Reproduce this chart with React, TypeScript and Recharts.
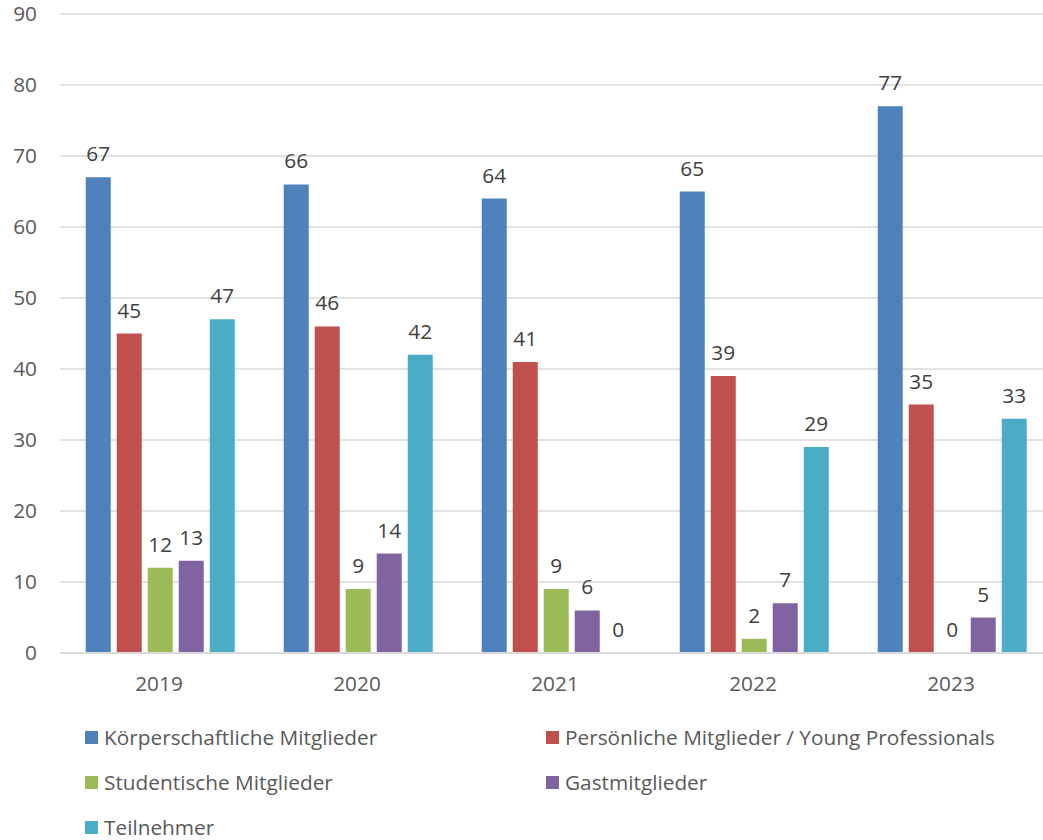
import React from "react";
import { BarChart, Bar, XAxis, YAxis, CartesianGrid, LabelList } from "recharts";

const years = ["2019", "2020", "2021", "2022", "2023"];
const koerperschaftlich = [67, 66, 64, 65, 77];
const persoenlich = [45, 46, 41, 39, 35];
const studentisch = [12, 9, 9, 2, 0];
const gast = [13, 14, 6, 7, 5];
const teilnehmer = [47, 42, 0, 29, 33];
const yTicks = [0, 10, 20, 30, 40, 50, 60, 70, 80, 90];

const series = [
  { key: "k", name: "Körperschaftliche Mitglieder", color: "#4F81BD", values: koerperschaftlich },
  { key: "p", name: "Persönliche Mitglieder / Young Professionals", color: "#C0504D", values: persoenlich },
  { key: "s", name: "Studentische Mitglieder", color: "#9BBB59", values: studentisch },
  { key: "g", name: "Gastmitglieder", color: "#8064A2", values: gast },
  { key: "t", name: "Teilnehmer", color: "#4BACC6", values: teilnehmer },
];

const data = years.map((y, i) => {
  const row: Record<string, string | number> = { year: y };
  series.forEach((s) => (row[s.key] = s.values[i]));
  return row;
});

const FONT = "'Open Sans', sans-serif";
const FS = 20.8;

export default function App() {
  return (
    <div
      style={{
        position: "absolute",
        left: 0,
        top: 0,
        width: 1043,
        height: 840,
        overflow: "hidden",
        background: "#fff",
        fontFamily: FONT,
      }}
    >
      <BarChart
        width={1050}
        height={840}
        data={data}
        margin={{ top: 14, right: 0, left: 0, bottom: 0 }}
        barCategoryGap="13%"
        barGap={6}
      >
        <CartesianGrid vertical={false} stroke="#D9D9D9" strokeWidth={1.5} />
        <XAxis
          dataKey="year"
          height={187}
          tickLine={false}
          axisLine={{ stroke: "#D9D9D9", strokeWidth: 2 }}
          tickMargin={17}
          tick={{ fill: "#595959", fontSize: FS, fontFamily: FONT }}
        />
        <YAxis
          width={60}
          domain={[0, 90]}
          ticks={yTicks}
          interval={0}
          axisLine={false}
          tickLine={false}
          tickMargin={17}
          tick={{ fill: "#595959", fontSize: FS, fontFamily: FONT }}
        />
        {series.map((s) => (
          <Bar
            key={s.key}
            dataKey={s.key}
            name={s.name}
            fill={s.color}
            minPointSize={0.01}
            isAnimationActive={false}
          >
            <LabelList
              dataKey={s.key}
              position="top"
              offset={16}
              fill="#404040"
              fontSize={FS}
              fontFamily={FONT}
            />
          </Bar>
        ))}
      </BarChart>
      {series.map((s, i) => {
        const col = i % 2;
        const row = Math.floor(i / 2);
        return (
          <div
            key={s.key}
            style={{
              position: "absolute",
              left: col === 0 ? 85 : 546,
              top: 737 + row * 45 - 14,
              height: 28,
              display: "flex",
              alignItems: "center",
              fontSize: FS,
              color: "#595959",
              whiteSpace: "nowrap",
            }}
          >
            <span style={{ display: "inline-block", width: 13, height: 13, background: s.color, marginRight: 6 }} />
            <span>{s.name}</span>
          </div>
        );
      })}
    </div>
  );
}
